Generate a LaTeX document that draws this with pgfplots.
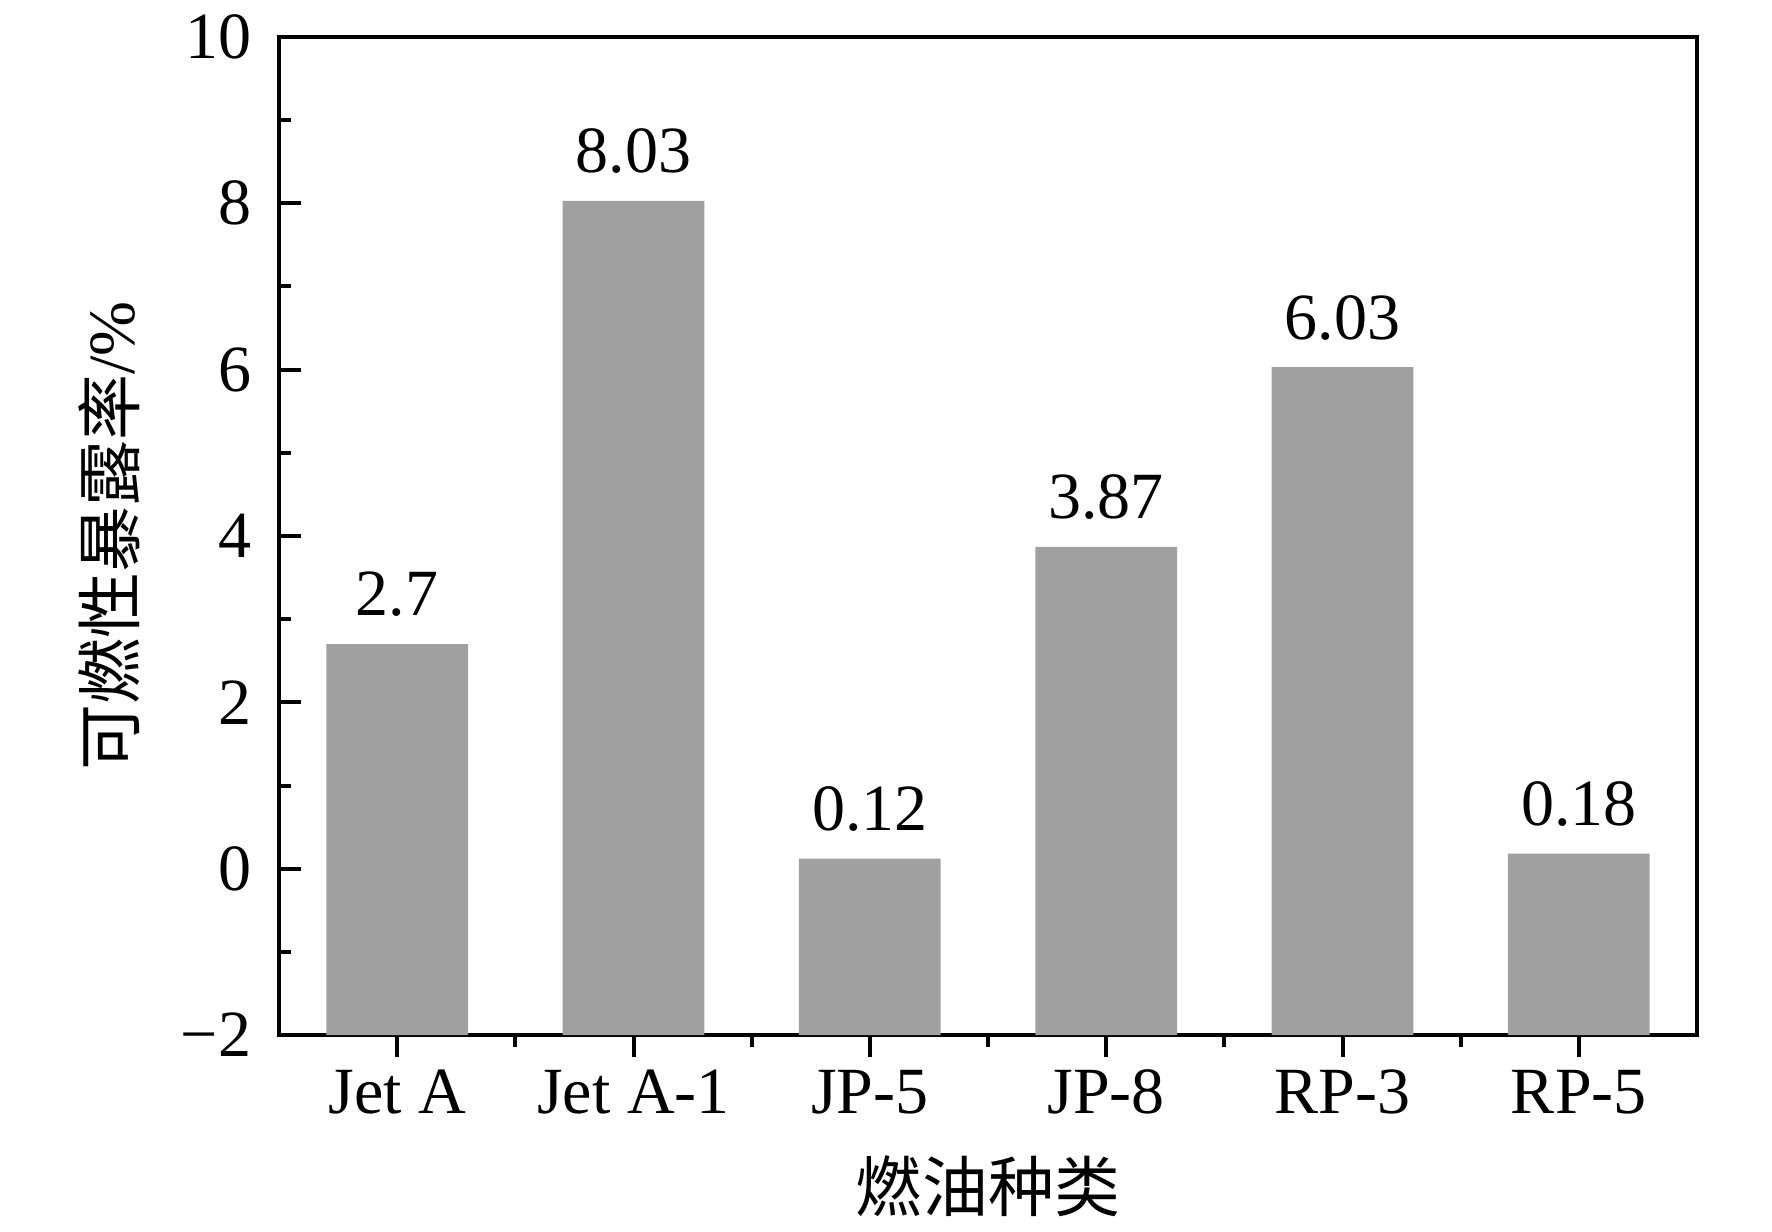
\documentclass[border=0pt]{standalone}
\usepackage{pgfplots}
\pgfplotsset{compat=1.18}
\usepackage{fontspec}
\setmainfont{Liberation Serif}
\newfontfamily\cjk{Noto Sans CJK SC}
\definecolor{bargray}{HTML}{A0A0A0}
\begin{document}
\fontsize{16.5}{20}\selectfont
\begin{tikzpicture}
\begin{axis}[
  at={(0,0)}, anchor=south west,
  scale only axis, width=354.5pt, height=249.5pt,
  xmin=-0.5, xmax=5.5,
  ymin=-2, ymax=10,
  y coord trafo/.code={\pgfmathparse{#1+2}},
  y coord inv trafo/.code={\pgfmathparse{#1-2}},
  xtick={0,1,2,3,4,5},
  xticklabels={Jet A, Jet A-1, JP-5, JP-8, RP-3, RP-5},
  minor x tick num=1,
  ytick={-2,0,2,4,6,8,10},
  yticklabels={−2,0,2,4,6,8,10},
  minor y tick num=1,
  xtick pos=bottom, ytick pos=left,
  tick align=inside,
  major tick length=5.5pt, minor tick length=3pt,
  axis line style={line width=1pt},
  every tick/.style={black, line width=1pt},
  xticklabel style={yshift=2.5pt},
  yticklabel style={xshift=-1.25pt},
  every axis y label/.style={at={(axis description cs:-0.12,0.5)}, rotate=90, anchor=center},
  every axis x label/.style={at={(axis description cs:0.5,-0.152)}, anchor=center},
  ylabel={{\cjk 可燃性暴露率}/\%},
  xlabel={{\cjk 燃油种类}},
  ybar, bar width=0.6,
  nodes near coords,
  point meta=explicit symbolic,
  every node near coord/.append style={yshift=1.1pt, black},
]
\addplot[fill=bargray, draw=none] coordinates {
  (0,2.7) [2.7]
  (1,8.03) [8.03]
  (2,0.12) [0.12]
  (3,3.87) [3.87]
  (4,6.03) [6.03]
  (5,0.18) [0.18]
};
\end{axis}
\pgfresetboundingbox
\path (-69.75pt,-49pt) rectangle (373.25pt,258.75pt);
\end{tikzpicture}
\end{document}
